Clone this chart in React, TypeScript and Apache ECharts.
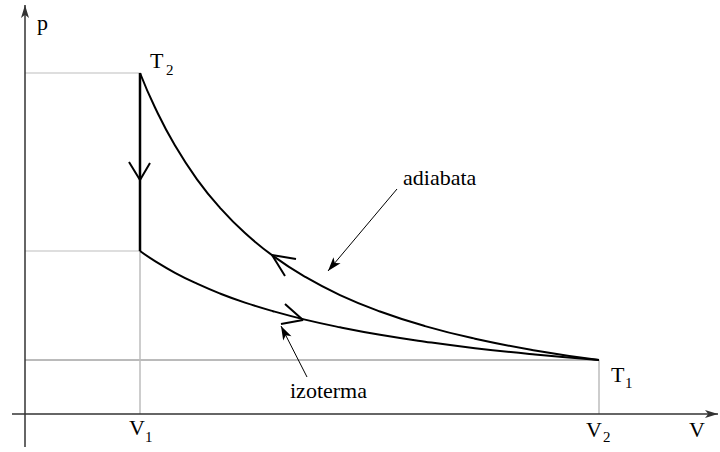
import React, { useEffect, useRef } from "react";
import * as echarts from "echarts";

// data coordinates: V to the right of the origin, p above the V axis
const adiabata: [number, number][] = [
  [115, 341], [130, 306.5], [150, 268.5], [172, 234.7], [195, 206.2], [220, 180.9],
  [248, 158.1], [280, 137.2], [315, 118.9], [355, 102.5], [400, 87.9], [450, 75.3],
  [510, 63.6], [574, 54],
];
const izoterma: [number, number][] = [
  [115, 163], [130, 152.9], [150, 141.2], [172, 130.3], [195, 120.5], [220, 111.4],
  [248, 102.8], [280, 94.4], [315, 86.7], [355, 79.2], [400, 72.3], [450, 65.8],
  [510, 59.5], [574, 54],
];
const V1 = 115;
const V2 = 574;
const pT2 = 341;
const pIso1 = 163;
const pT1 = 54;

const arrowVertical: [number, number][] = [[104, 252], [115, 234], [125, 251]];
const arrowAdiabata: [number, number][] = [[271, 155], [247, 159], [260, 138]];
const arrowIzoterma: [number, number][] = [[260, 110], [278, 94], [256, 90]];

const noteAdiabata: [number, number][] = [[372, 225], [303, 143]];
const noteIzoterma: [number, number][] = [[282, 37], [256, 88]];

const xAxisLine: [number, number][] = [[-13, 0], [693, 0]];
const yAxisLine: [number, number][] = [[0, -33], [0, 409]];

const SERIF = "'Liberation Serif', 'Times New Roman', 'DejaVu Serif', serif";

export default function App() {
  const ref = useRef<HTMLDivElement>(null);
  useEffect(() => {
    if (!ref.current) return;
    const chart = echarts.init(ref.current, undefined, { renderer: "svg" });
    const black = "#000";
    const lightGray = "#bdbdbd";
    const darkGray = "#777";
    const seg = (pts: [number, number][], color: string, width: number, name: string) => ({
      type: "line",
      name,
      data: pts,
      symbol: "none",
      silent: true,
      lineStyle: { color, width },
      z: 2,
    });
    const arrowLine = (pts: [number, number][], color: string, width: number, size: number[]) => ({
      type: "line",
      data: [],
      silent: true,
      markLine: {
        silent: true,
        symbol: ["none", "arrow"],
        symbolSize: size,
        label: { show: false },
        lineStyle: { type: "solid", color, width },
        emphasis: { disabled: true },
        data: [[{ coord: pts[0] }, { coord: pts[1] }]],
      },
    });
    const txt = (text: string, x: number, y: number, size: number) => ({
      type: "text",
      x,
      y,
      style: {
        text,
        font: `${size}px ${SERIF}`,
        fill: "#000",
        verticalAlign: "middle",
        align: "left",
      },
    });
    chart.setOption({
      animation: false,
      grid: { left: 0, right: 0, top: 0, bottom: 0 },
      xAxis: { type: "value", min: -25, max: 695, show: false },
      yAxis: { type: "value", min: -38, max: 414, show: false },
      series: [
        seg([[0, pT2], [V1, pT2]], lightGray, 1, "g1"),
        seg([[0, pIso1], [V1, pIso1]], lightGray, 1, "g2"),
        seg([[0, pT1], [V2, pT1]], darkGray, 1, "g3"),
        seg([[V1, 0], [V1, pIso1]], lightGray, 1.5, "g4"),
        seg([[V2, 0], [V2, pT1]], lightGray, 1.5, "g5"),
        arrowLine(xAxisLine, "#333", 1.5, [6, 13]),
        arrowLine(yAxisLine, "#333", 1.5, [6, 13]),
        { ...seg(adiabata, black, 2, "adiabata"), smooth: 0.5 },
        { ...seg(izoterma, black, 2, "izoterma"), smooth: 0.5 },
        seg([[V1, pT2], [V1, pIso1]], black, 2.5, "izohora"),
        seg(arrowVertical, black, 2, "a1"),
        seg(arrowAdiabata, black, 2, "a2"),
        seg(arrowIzoterma, black, 2, "a3"),
        arrowLine(noteAdiabata, black, 1, [7, 14]),
        arrowLine(noteIzoterma, black, 1, [7, 14]),
      ],
      graphic: [
        txt("p", 37, 22.5, 22),
        txt("T", 150, 60.5, 22),
        txt("2", 166, 70, 15),
        txt("adiabata", 403, 177.5, 22),
        txt("izoterma", 290, 390.5, 22),
        txt("V", 129, 427.5, 22),
        txt("1", 145, 437, 15),
        txt("V", 586, 429.5, 22),
        txt("2", 603, 437, 15),
        txt("V", 689, 429.5, 22),
        txt("T", 611, 374.5, 22),
        txt("1", 625, 383, 15),
      ],
    });
    return () => chart.dispose();
  }, []);
  return (
    <div
      ref={ref}
      style={{ position: "absolute", left: 0, top: 0, width: 720, height: 452, background: "#fff" }}
    />
  );
}
